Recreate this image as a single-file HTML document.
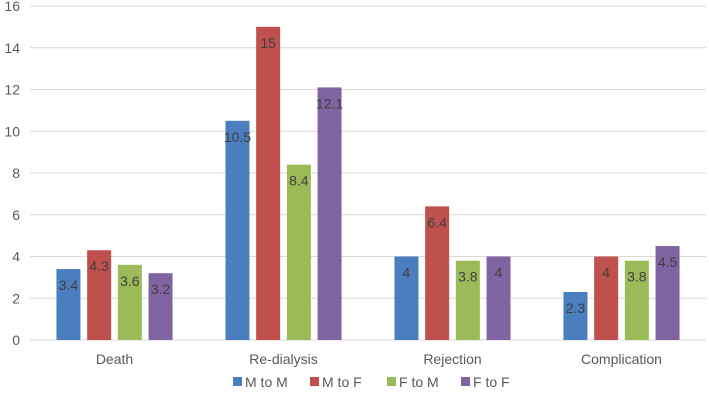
<!DOCTYPE html>
<html><head><meta charset="utf-8"><style>
body{margin:0;background:#fff;font-family:"Liberation Sans",sans-serif}
svg text{font-family:"Liberation Sans",sans-serif}
</style></head><body>
<svg id="chart" width="709" height="400" xmlns="http://www.w3.org/2000/svg">
<g id="grid"></g>
<g id="yaxis"></g>
<g id="bars"></g>
<g id="xaxis"></g>
<g id="legend"></g>
</svg>
<script>
const categories=["Death","Re-dialysis","Rejection","Complication"];
const seriesNames=["M to M","M to F","F to M","F to F"];
const mToM=[3.4,10.5,4,2.3];
const mToF=[4.3,15,6.4,4];
const fToM=[3.6,8.4,3.8,3.8];
const fToF=[3.2,12.1,4,4.5];
const yTicks=[0,2,4,6,8,10,12,14,16];
const series=[mToM,mToF,fToM,fToF];
const colors=["#4a7ebf","#c0504d","#9bbb59","#8064a2"];
const NS="http://www.w3.org/2000/svg";
const x0=30,x1=706,yBase=340,yTop=6;
const y=v=>yBase-(v/16)*(yBase-yTop);
const step=(x1-x0)/categories.length;
function mk(tag,attrs,parent){const e=document.createElementNS(NS,tag);for(const k in attrs)e.setAttribute(k,attrs[k]);parent.appendChild(e);return e;}
const grid=document.getElementById('grid'),ya=document.getElementById('yaxis'),bars=document.getElementById('bars'),xa=document.getElementById('xaxis'),lg=document.getElementById('legend');
yTicks.forEach(t=>{
 const l=mk('line',{x1:x0,x2:x1,y1:y(t),y2:y(t),stroke:'#d9d9d9','stroke-width':1},grid);
 
 
 const tx=mk('text',{x:20,y:y(t)+5,'text-anchor':'end','font-size':14,fill:'#595959'},ya);
 tx.textContent=t;
 
 
});
const bw=24,bstep=30.7;
categories.forEach((c,i)=>{
 const cx=x0+step*(i+0.5);
 series.forEach((s,j)=>{
  const bx=cx-2*bstep+j*bstep+(bstep-bw)/2;
  const r=mk('rect',{x:bx,y:y(s[i]),width:bw,height:yBase-y(s[i]),fill:colors[j]},bars);
  
  
  const t=mk('text',{x:bx+bw/2,y:y(s[i])+21,'text-anchor':'middle','font-size':14,fill:'#404040'},bars);
  t.textContent=s[i];
  
  
 });
 const t=mk('text',{x:cx,y:364,'text-anchor':'middle','font-size':14,fill:'#595959'},xa);
 t.textContent=c;
 
 
});
const lx=[233,310,387,461];
seriesNames.forEach((n,j)=>{
 const r=mk('rect',{x:lx[j],y:377,width:9,height:9,fill:colors[j]},lg);
 
 
 const t=mk('text',{x:lx[j]+12,y:387,'font-size':14,fill:'#595959'},lg);
 t.textContent=n;
 
 
});
</script>
</body></html>
